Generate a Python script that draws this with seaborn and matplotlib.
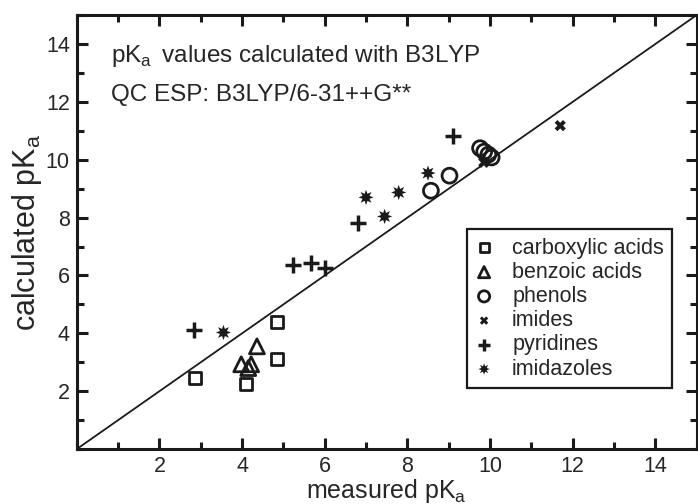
import matplotlib
matplotlib.use("Agg")
import matplotlib.pyplot as plt
import seaborn as sns
import pandas as pd
from matplotlib.ticker import MultipleLocator

# measured vs calculated pKa per compound class
carbox_meas = [2.86, 4.10, 4.85, 4.85]
carbox_calc = [2.45, 2.24, 4.38, 3.13]
benzoic_meas = [3.98, 4.15, 4.22, 4.36]
benzoic_calc = [2.93, 2.80, 2.93, 3.55]
phenol_meas = [8.57, 9.02, 9.76, 9.86, 9.96, 10.04]
phenol_calc = [8.93, 9.45, 10.40, 10.28, 10.18, 10.08]
imide_meas = [9.85, 11.70]
imide_calc = [9.91, 11.18]
pyridine_meas = [2.84, 5.24, 5.67, 6.00, 6.81, 9.10]
pyridine_calc = [4.11, 6.37, 6.42, 6.26, 7.80, 10.83]
imidazole_meas = [3.55, 7.00, 7.45, 7.79, 8.50]
imidazole_calc = [4.03, 8.70, 8.04, 8.87, 9.54]

groups = [
    ("carboxylic acids", carbox_meas, carbox_calc),
    ("benzoic acids", benzoic_meas, benzoic_calc),
    ("phenols", phenol_meas, phenol_calc),
    ("imides", imide_meas, imide_calc),
    ("pyridines", pyridine_meas, pyridine_calc),
    ("imidazoles", imidazole_meas, imidazole_calc),
]

ink = "#1a1a1a"
styles = {
    "carboxylic acids": dict(marker="s", s=75, facecolors="none", edgecolors=ink, linewidths=2.0),
    "benzoic acids": dict(marker="^", s=115, facecolors="none", edgecolors=ink, linewidths=2.0),
    "phenols": dict(marker="o", s=115, facecolors="none", edgecolors=ink, linewidths=2.0),
    "imides": dict(marker="X", s=65, color=ink, edgecolors="none", linewidths=0),
    "pyridines": dict(marker="+", s=120, color=ink, linewidths=2.5),
    "imidazoles": dict(marker=(8, 1, 0), s=120, color=ink, edgecolors="none", linewidths=0),
}

sns.set_style("ticks")
plt.rcParams["font.family"] = ["Liberation Sans", "DejaVu Sans"]

fig = plt.figure(figsize=(6.98, 5.04), dpi=100)
ax = fig.add_axes([0.110, 0.109, 0.888, 0.861])

# identity line
ax.plot([0, 15], [0, 15], color=ink, lw=1.3, zorder=1)

handles = []
for name, xs, ys in groups:
    df = pd.DataFrame({"measured": xs, "calculated": ys})
    sns.scatterplot(data=df, x="measured", y="calculated", ax=ax, zorder=3, **styles[name])
    h = ax.collections[-1]
    h.set_label(name)
    handles.append(h)

ax.set_xlim(0, 15)
ax.set_ylim(0, 15)
ax.xaxis.set_minor_locator(MultipleLocator(1))
ax.yaxis.set_minor_locator(MultipleLocator(1))
ax.set_xticks([2, 4, 6, 8, 10, 12, 14])
ax.set_yticks([2, 4, 6, 8, 10, 12, 14])
ax.tick_params(which="both", direction="in", top=True, right=True,
               width=2.2, color=ink, labelsize=15.5, pad=5)
ax.tick_params(which="major", length=8)
ax.tick_params(which="minor", length=5)
for sp in ax.spines.values():
    sp.set_linewidth(2.2)
    sp.set_color(ink)

ax.set_xlabel("measured pK$_\\mathregular{a}$", fontsize=18, labelpad=0)
ax.set_ylabel("calculated pK$_\\mathregular{a}$", fontsize=22, labelpad=1)

ax.text(0.056, 0.905, "pK$_\\mathregular{a}\\,$ values calculated with B3LYP",
        transform=ax.transAxes, fontsize=17.5, va="center", ha="left")
ax.text(0.056, 0.816, "QC ESP: B3LYP/6-31++G**",
        transform=ax.transAxes, fontsize=17.5, va="center", ha="left")

leg = ax.legend(handles=handles, loc="lower right", bbox_to_anchor=(0.961, 0.14),
                borderaxespad=0, fontsize=15.5, frameon=True, fancybox=False,
                edgecolor=ink, framealpha=1, markerscale=0.75, handlelength=0.8,
                handletextpad=0.9, labelspacing=0.15, borderpad=0.4)
leg.get_frame().set_linewidth(1.6)

fig.savefig("out.png", dpi=100)
